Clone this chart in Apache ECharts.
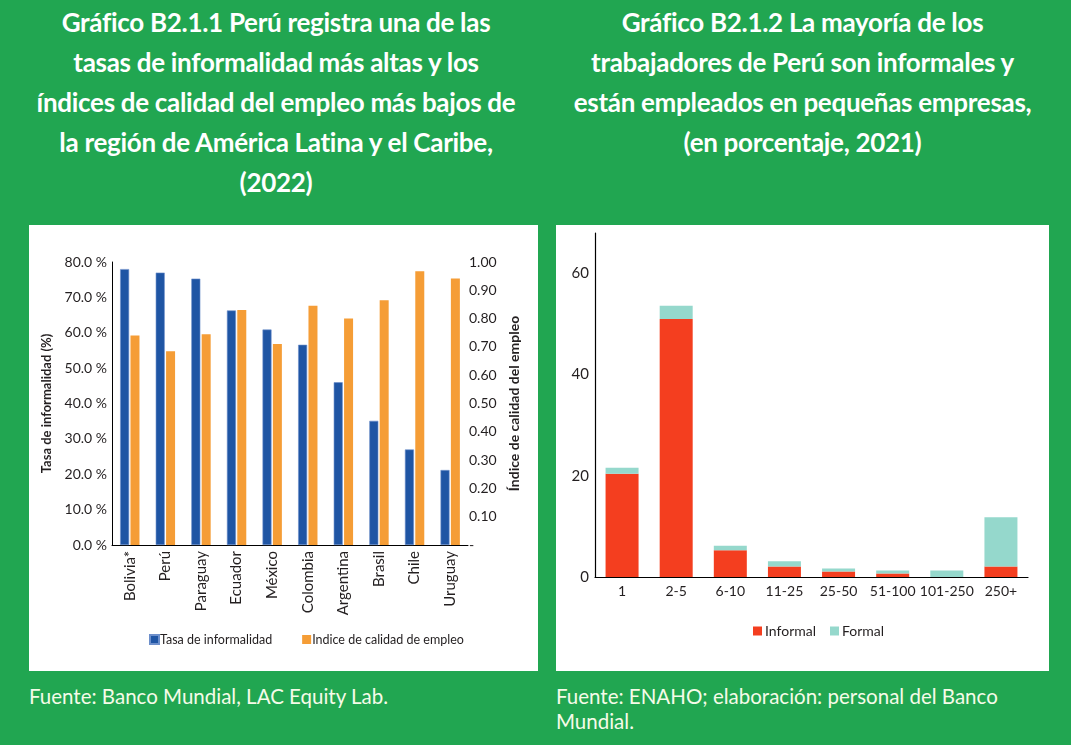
<!DOCTYPE html>
<html lang="es">
<head>
    <meta charset="UTF-8">
    <title>Gráficos B2.1.1 y B2.1.2</title>
    <style>
        html, body { margin: 0; padding: 0; }
        body {
            width: 1071px; height: 745px; overflow: hidden;
            background: #21a651; position: relative;
            font-family: Lato, "Open Sans", sans-serif;
        }
        .titulo {
            position: absolute; top: 2px; color: #fff; font-weight: bold;
            font-size: 26px; line-height: 40px; text-align: center;
            letter-spacing: -0.3px;
        }
        .panel { position: absolute; top: 225px; height: 446px; background: #fff; }
        .fuente {
            position: absolute; top: 684px; color: #f5fbe8;
            font-size: 20.5px; line-height: 25px;
        }
    </style>
</head>
<body>
<div class="titulo" style="left: 29px; width: 494px;">Gráfico B2.1.1 Perú registra una de las<br>tasas de informalidad más altas y los<br>índices de calidad del empleo más bajos de<br>la región de América Latina y el Caribe,<br>(2022)</div>
<div class="titulo" style="left: 556px; width: 493px;">Gráfico B2.1.2 La mayoría de los<br>trabajadores de Perú son informales y<br>están empleados en pequeñas empresas,<br>(en porcentaje, 2021)</div>

<div id="chart1" class="panel" style="left: 29px; width: 509px;"></div>
<div id="chart2" class="panel" style="left: 556px; width: 493px;"></div>

<div class="fuente" style="left: 29px; width: 500px;">Fuente: Banco Mundial, LAC Equity Lab.</div>
<div class="fuente" style="left: 556px; width: 460px;">Fuente: ENAHO; elaboración: personal del Banco Mundial.</div>

<script src="https://cdn.jsdelivr.net/npm/echarts@6/dist/echarts.min.js"></script>
<script>
    // Gráfico B2.1.1
    var paises = ['Bolivia*', 'Perú', 'Paraguay', 'Ecuador', 'México', 'Colombia', 'Argentina', 'Brasil', 'Chile', 'Uruguay'];
    var tasaInformalidad = [78.0, 77.0, 75.3, 66.3, 60.9, 56.6, 46.0, 35.1, 27.0, 21.2];
    var indiceCalidad = [0.74, 0.685, 0.745, 0.83, 0.71, 0.845, 0.80, 0.865, 0.967, 0.942];

    // Gráfico B2.1.2
    var tamanos = ['1', '2-5', '6-10', '11-25', '25-50', '51-100', '101-250', '250+'];
    var informal = [20.4, 51.0, 5.3, 2.1, 1.1, 0.7, 0, 2.1];
    var formal = [1.2, 2.6, 0.9, 1.0, 0.6, 0.6, 1.3, 9.7];

    var fuente = 'Lato, "Open Sans", sans-serif';
    var texto = '#231f20';

    function showChart (option, elStr) {
        var chart = echarts.init(document.getElementById(elStr));
        chart.setOption(option);
    }

    function showChart1 () {
        var option = {
            animation: false,
            textStyle: {fontFamily: fuente},
            grid: {left: 83, right: 70, top: 37, bottom: 126},
            legend: {
                left: 115, top: 403,
                itemWidth: 9, itemHeight: 9, itemGap: 30,
                icon: 'rect',
                textStyle: {fontSize: 12.5, color: texto, padding: [0, 0, 0, -4]},
                data: ['Tasa de informalidad', 'Indice de calidad de empleo']
            },
            xAxis: {
                type: 'category',
                data: paises,
                axisLine: {lineStyle: {color: '#000', width: 1}},
                axisTick: {show: false},
                axisLabel: {rotate: 90, margin: 6, fontSize: 15, color: texto, interval: 0}
            },
            yAxis: [
                {
                    type: 'value', min: 0, max: 80, interval: 10,
                    name: 'Tasa de informalidad (%)',
                    nameLocation: 'middle', nameRotate: 90, nameGap: 56,
                    nameTextStyle: {fontSize: 13, fontWeight: 'bold', color: texto},
                    axisLine: {show: true, lineStyle: {color: '#000', width: 1}},
                    axisTick: {show: false},
                    splitLine: {show: false},
                    axisLabel: {
                        fontSize: 14, color: texto, margin: 5,
                        formatter: function (v) { return v.toFixed(1) + ' %'; }
                    }
                },
                {
                    type: 'value', min: 0, max: 1, interval: 0.1,
                    name: 'Índice de calidad del empleo',
                    nameLocation: 'middle', nameRotate: 90, nameGap: 38,
                    nameTextStyle: {fontSize: 14, fontWeight: 'bold', color: texto},
                    axisLine: {show: false},
                    axisTick: {show: false},
                    splitLine: {show: false},
                    axisLabel: {
                        fontSize: 14, color: texto, margin: 1,
                        formatter: function (v) { return v === 0 ? '-' : v.toFixed(2); }
                    }
                }
            ],
            series: [
                {
                    name: 'Tasa de informalidad',
                    type: 'bar',
                    data: tasaInformalidad,
                    barWidth: 9,
                    barGap: '15%',
                    itemStyle: {color: '#1f55a4', borderColor: '#6d8fcb', borderWidth: 0.6}
                },
                {
                    name: 'Indice de calidad de empleo',
                    type: 'bar',
                    yAxisIndex: 1,
                    data: indiceCalidad,
                    barWidth: 9,
                    itemStyle: {color: '#f59d36'}
                }
            ]
        };
        showChart(option, 'chart1');
    }

    function showChart2 () {
        var option = {
            animation: false,
            textStyle: {fontFamily: fuente},
            grid: {left: 39, right: 21, top: 8, bottom: 94},
            legend: {
                left: 192, top: 394,
                itemWidth: 9, itemHeight: 9, itemGap: 14,
                icon: 'rect',
                textStyle: {fontSize: 14, color: texto, padding: [0, 0, 0, -2]},
                data: ['Informal', 'Formal']
            },
            xAxis: {
                type: 'category',
                data: tamanos,
                axisLine: {lineStyle: {color: '#000', width: 1.2}},
                axisTick: {show: false},
                axisLabel: {margin: 7, fontSize: 14, color: texto, interval: 0}
            },
            yAxis: {
                type: 'value', min: 0, max: 68, interval: 20,
                axisLine: {show: true, lineStyle: {color: '#000', width: 1.2}},
                axisTick: {show: false},
                splitLine: {show: false},
                axisLabel: {fontSize: 15, color: texto, margin: 6, showMaxLabel: false}
            },
            series: [
                {
                    name: 'Informal',
                    type: 'bar',
                    stack: 'total',
                    data: informal,
                    barWidth: 33,
                    itemStyle: {color: '#f43e1f'}
                },
                {
                    name: 'Formal',
                    type: 'bar',
                    stack: 'total',
                    data: formal,
                    barWidth: 33,
                    itemStyle: {color: '#95d8cc'}
                }
            ]
        };
        showChart(option, 'chart2');
    }

    showChart1();
    showChart2();
</script>
</body>
</html>
